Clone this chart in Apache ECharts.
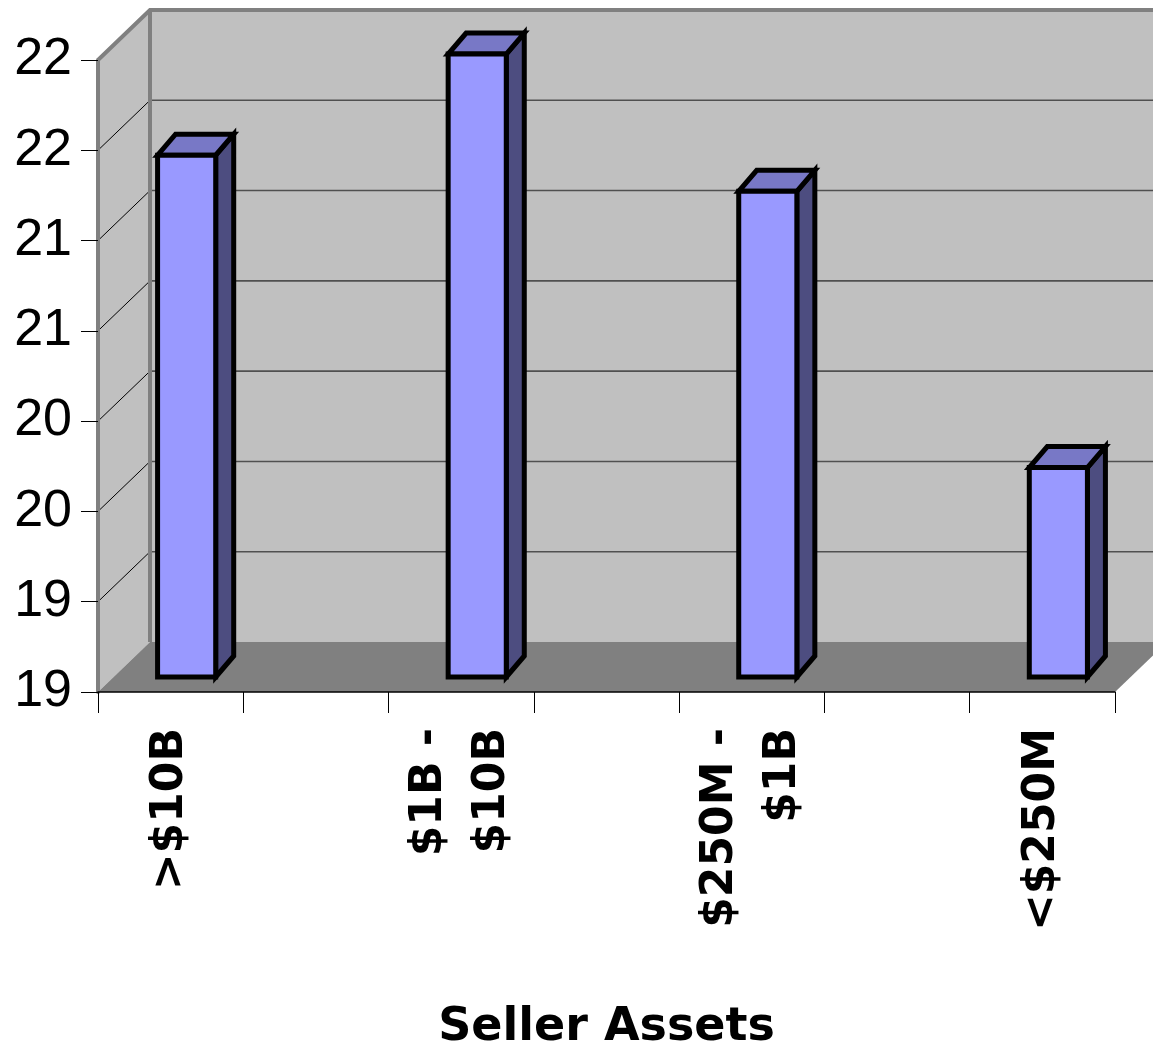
<!DOCTYPE html>
<html>
<head>
<meta charset="utf-8">
<script src="https://cdn.jsdelivr.net/npm/echarts@6/dist/echarts.min.js"></script>
<style>
  html, body { margin: 0; padding: 0; background: #ffffff; }
  #chart { width: 1153px; height: 1057px; }
</style>
</head>
<body>
<div id="chart"></div>
<script>
// ---- data ----
const categories = ['>$10B', '$1B -\n$10B', '$250M -\n$1B', '<$250M'];
const values = [21.39, 21.95, 21.19, 19.66];
const axisTitle = 'Seller Assets';
const Y_MIN = 18.5, Y_MAX = 22, Y_INT = 0.5;

// The axis has a blank slot between each category (as in the original)
const slots = [];
categories.forEach((c, i) => { slots.push(c); if (i < categories.length - 1) slots.push(''); });
const barData = values.map((v, i) => [i * 2, v]);

// 3D look parameters (pixels)
const WALL_DX = 52, WALL_DY = -50;
const BAR_OX = 16, BAR_OY = -15, BAR_DX = 18, BAR_DY = -21;

const chart = echarts.init(document.getElementById('chart'), null, { renderer: 'canvas' });

function frameItem(params, api) {
  const cs = params.coordSys;
  const x = cs.x, y = cs.y, w = cs.width, h = cs.height;
  const dx = WALL_DX, dy = WALL_DY;
  const ch = [];
  ch.push({ type: 'polygon', shape: { points: [[x, y], [x + dx, y + dy], [x + dx, y + h + dy], [x, y + h]] },
            style: { fill: '#C0C0C0' } });
  ch.push({ type: 'polygon', shape: { points: [[x + dx, y + dy], [x + w + dx, y + dy], [x + w + dx, y + h + dy], [x + dx, y + h + dy]] },
            style: { fill: '#C0C0C0' } });
  ch.push({ type: 'polygon', shape: { points: [[x, y + h], [x + dx, y + h + dy], [x + w + dx, y + h + dy], [x + w, y + h]] },
            style: { fill: '#808080' } });
  for (let v = Y_MIN + Y_INT; v < Y_MAX - 1e-9; v += Y_INT) {
    const py = api.coord([0, v])[1];
    ch.push({ type: 'line', shape: { x1: x, y1: py, x2: x + dx, y2: py + dy }, style: { stroke: '#000', lineWidth: 1 } });
    ch.push({ type: 'line', shape: { x1: x + dx, y1: py + dy, x2: x + w + dx, y2: py + dy }, style: { stroke: '#505050', lineWidth: 1.6 } });
  }
  const bs = { stroke: '#808080', lineWidth: 4, fill: null };
  ch.push({ type: 'polyline', shape: { points: [[x, y], [x + dx, y + dy], [x + w + dx + 10, y + dy]] }, style: bs });
  ch.push({ type: 'line', shape: { x1: x + dx, y1: y + dy, x2: x + dx, y2: y + h + dy }, style: { stroke: '#808080', lineWidth: 4 } });
  return { type: 'group', children: ch };
}

function barItem(params, api) {
  const slot = api.value(0), v = api.value(1);
  const base = api.coord([slot, Y_MIN]);
  const top = api.coord([slot, v]);
  const bw = api.size([1, 0])[0] * 0.4;
  const x0 = base[0] - bw / 2 + BAR_OX, x1 = x0 + bw;
  const yb = base[1] + BAR_OY, yt = top[1] + BAR_OY;
  const dx = BAR_DX, dy = BAR_DY;
  const st = (fill) => ({ fill: fill, stroke: '#000', lineWidth: 5, lineJoin: 'miter' });
  return {
    type: 'group',
    children: [
      { type: 'polygon', shape: { points: [[x1, yb], [x1 + dx, yb + dy], [x1 + dx, yt + dy], [x1, yt]] }, style: st('#4D4D80') },
      { type: 'polygon', shape: { points: [[x0, yt], [x1, yt], [x1 + dx, yt + dy], [x0 + dx, yt + dy]] }, style: st('#7878C6') },
      { type: 'polygon', shape: { points: [[x0, yb], [x1, yb], [x1, yt], [x0, yt]] }, style: st('#9999FF') }
    ]
  };
}

chart.setOption({
  animation: false,
  backgroundColor: '#ffffff',
  grid: { left: 98, right: 38, top: 60, bottom: 365, containLabel: false, outerBoundsMode: 'none' },
  xAxis: {
    type: 'category',
    data: slots,
    boundaryGap: true,
    z: 3,
    name: axisTitle,
    nameLocation: 'middle',
    nameGap: 313,
    nameTextStyle: { fontFamily: 'DejaVu Sans', fontWeight: 'bold', fontSize: 46, color: '#000' },
    axisLine: { show: true, lineStyle: { color: '#000', width: 1.5 } },
    axisTick: { show: true, interval: 0, length: 21, lineStyle: { color: '#000', width: 1 } },
    axisLabel: {
      interval: 0, rotate: 90, margin: 36,
      fontFamily: 'DejaVu Sans', fontWeight: 'bold', fontSize: 44, lineHeight: 63, color: '#000'
    },
    splitLine: { show: false }
  },
  yAxis: {
    type: 'value',
    min: Y_MIN, max: Y_MAX, interval: Y_INT,
    z: 3,
    axisLine: { show: true, lineStyle: { color: '#808080', width: 4 } },
    axisTick: { show: true, length: 17, lineStyle: { color: '#000', width: 1 } },
    axisLabel: {
      margin: 26,
      formatter: (v) => String(Math.round(v)),
      fontFamily: 'Liberation Sans', fontSize: 52, color: '#000'
    },
    splitLine: { show: false }
  },
  series: [
    { type: 'custom', z: 1, silent: true, renderItem: frameItem, data: [[0, Y_MIN]], clip: false },
    { type: 'custom', z: 2, silent: true, renderItem: barItem, data: barData, clip: false,
      encode: { x: 0, y: 1 } }
  ]
});
</script>
</body>
</html>
